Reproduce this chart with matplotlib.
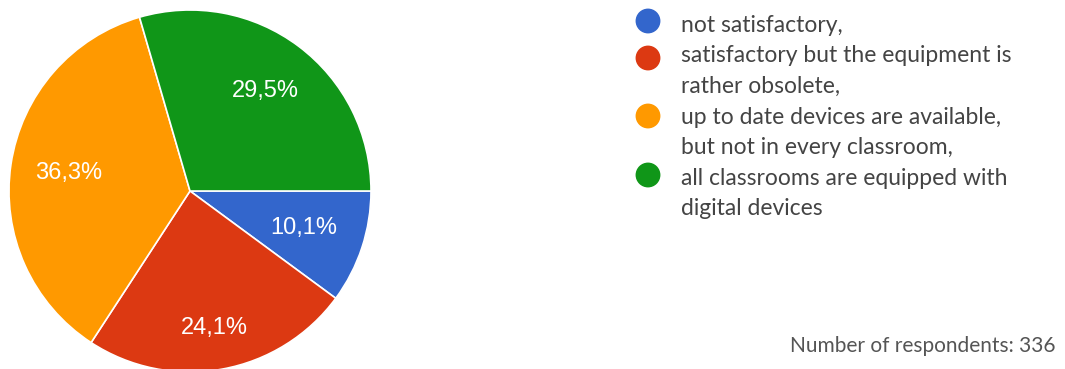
import matplotlib.pyplot as plt

categories = [
    "not satisfactory,",
    "satisfactory but the equipment is\nrather obsolete,",
    "up to date devices are available,\nbut not in every classroom,",
    "all classrooms are equipped with\ndigital devices",
]
shares = [10.1, 24.1, 36.3, 29.5]
colors = ["#3366cc", "#dc3912", "#ff9900", "#109618"]
respondents = 336

W, H = 1065, 369
fig = plt.figure(figsize=(W / 100, H / 100), dpi=100)

# pie axes, placed in pixels: centre (190, 191), radius 181
cx, cy, r = 190, 191, 181
ax = fig.add_axes([(cx - r) / W, (H - cy - r) / H, 2 * r / W, 2 * r / H])
wedges, texts, autotexts = ax.pie(
    shares,
    colors=colors,
    startangle=0,
    counterclock=False,
    autopct=lambda p: f"{p:.1f}%".replace(".", ","),
    pctdistance=0.7,
    wedgeprops=dict(edgecolor="white", linewidth=1.2),
    textprops=dict(color="white", fontsize=17, family="Liberation Sans"),
)
# nudge labels to where the form renders them
for t, d in zip(autotexts, [0.66, 0.77, 0.68, 0.69]):
    x, y = t.get_position()
    s = d / 0.7
    t.set_position((x * s, y * s))
ax.set_xlim(-1, 1)
ax.set_ylim(-1, 1)
ax.set_aspect("equal")
ax.axis("off")

# legend drawn in a pixel-space overlay
lax = fig.add_axes([0, 0, 1, 1])
lax.set_xlim(0, W)
lax.set_ylim(H, 0)
lax.axis("off")

first_baseline, line_step = 31.7, 30.6
dot_y = [21, 58, 116, 175]
line = 0
for label, c, y in zip(categories, colors, dot_y):
    lax.scatter([648], [y], s=320, color=c, edgecolors="none")
    for part in label.split("\n"):
        lax.text(681, first_baseline + line * line_step, part, fontsize=16.5,
                 family="Lato", color="#444444", va="baseline")
        line += 1

lax.text(1056, 352, f"Number of respondents: {respondents}", fontsize=15,
         family="Lato", color="#555555", ha="right", va="baseline")

fig.savefig("out.png", dpi=100)
